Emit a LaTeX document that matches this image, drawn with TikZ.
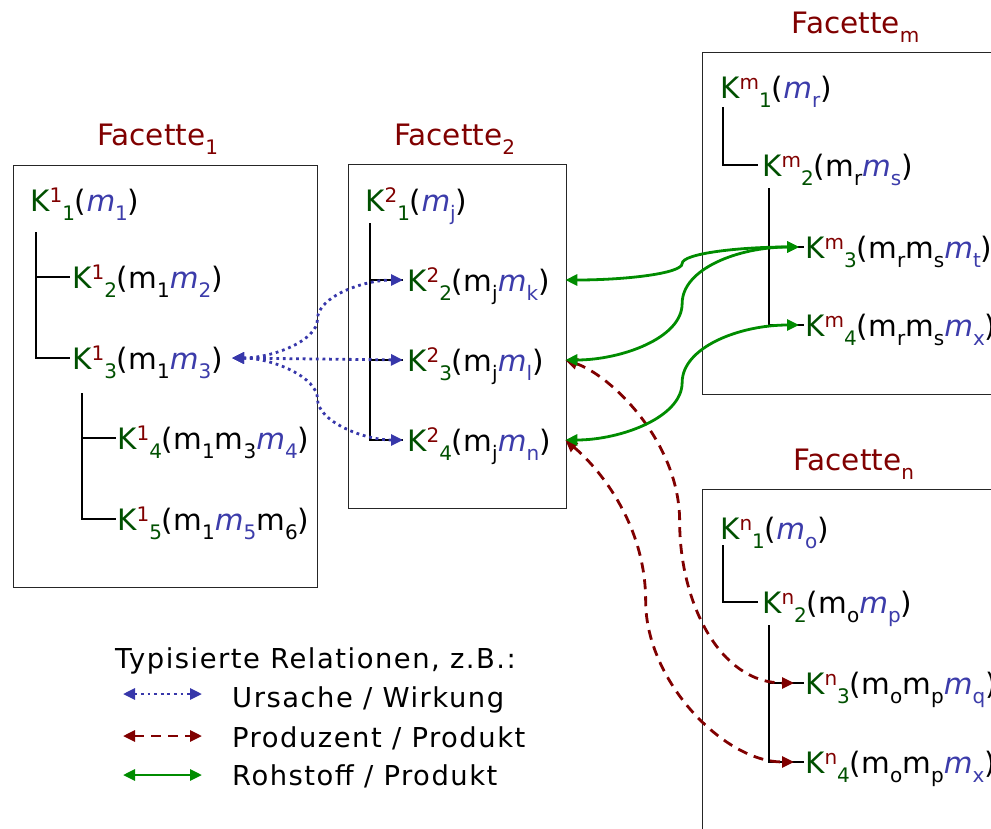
\documentclass[tikz,border=0pt]{standalone}
\usepackage{fontspec}
\setmainfont{DejaVu Sans}
\newfontfamily\legfont[LetterSpace=5.5]{DejaVu Sans}
\usepackage{xcolor}
\usepackage{tikz}
\usetikzlibrary{arrows.meta, calc}

\definecolor{fred}{RGB}{128,0,0}
\definecolor{kgruen}{RGB}{0,80,0}
\definecolor{mblau}{RGB}{60,60,170}
\definecolor{pfblau}{RGB}{55,55,170}
\definecolor{pfgruen}{RGB}{0,140,0}

\newcommand{\hoch}[1]{\raisebox{9pt}{\fontsize{20}{20}\selectfont #1}}
\newcommand{\tief}[1]{\raisebox{-9pt}{\fontsize{20}{20}\selectfont #1}}
\newcommand{\kat}[3]{\textcolor{kgruen}{K\hoch{\textcolor{fred}{#1}}\tief{#2}}(#3)}
\newcommand{\mneu}[1]{\textcolor{mblau}{\textit{m}\tief{#1}}}

\tikzstyle{facette} = [draw=black!85, line width=1.3pt, inner sep=0pt, anchor=north west]
\tikzstyle{titel} = [text=fred, anchor=base, inner sep=0pt]
\tikzstyle{kategorie} = [inner sep=0pt, text height=22pt, text depth=0pt, anchor=west]
\tikzstyle{baum} = [line width=2.6pt]
\tikzstyle{legende} = [font=\legfont\fontsize{27.4}{32}\selectfont, inner sep=0pt, anchor=base west]
\tikzstyle{spitzen} = [{Triangle[length=12pt,width=11pt]}-{Triangle[length=12pt,width=11pt]}]
\tikzstyle{ursache} = [spitzen, pfblau, line width=2.8pt, dash pattern=on 2.8pt off 3.8pt]
\tikzstyle{produzent} = [spitzen, fred, line width=2.8pt, dash pattern=on 10pt off 7pt]
\tikzstyle{rohstoff} = [spitzen, pfgruen, line width=2.8pt]

\begin{document}
\begin{tikzpicture}[x=1pt, y=-1pt, font=\fontsize{29.5}{34}\selectfont]
    \useasboundingbox (0,0) rectangle (991,828);
    \clip (0,0) rectangle (991,828);

    % Facetten
    \node (f1) [facette, minimum width=304pt, minimum height=422pt] at (13,165) {};
    \node (f2) [facette, minimum width=218pt, minimum height=344pt] at (348,164) {};
    \node (fm) [facette, minimum width=306pt, minimum height=342pt] at (702,52) {};
    \node (fn) [facette, minimum width=306pt, minimum height=400pt] at (702,489) {};

    \node [titel] at ([xshift=-8pt,yshift=20pt]f1.north) {Facette\tief{1}};
    \node [titel] at ([xshift=-3pt,yshift=19pt]f2.north) {Facette\tief{2}};
    \node [titel] at ([yshift=19pt]fm.north) {Facette\tief{m}};
    \node [titel] at ([xshift=-2pt,yshift=19pt]fn.north) {Facette\tief{n}};

    % Kategorien
    \node (k11) [kategorie] at (30,200) {\kat{1}{1}{\mneu{1}}};
    \node (k12) [kategorie] at (72,277) {\kat{1}{2}{m\tief{1}\mneu{2}}};
    \node (k13) [kategorie] at (72,358) {\kat{1}{3}{m\tief{1}\mneu{3}}};
    \node (k14) [kategorie] at (117,438) {\kat{1}{4}{m\tief{1}m\tief{3}\mneu{4}}};
    \node (k15) [kategorie] at (117,519) {\kat{1}{5}{m\tief{1}\mneu{5}m\tief{6}}};

    \node (k21) [kategorie] at (365,200) {\kat{2}{1}{\mneu{j}}};
    \node (k22) [kategorie] at (407,280) {\kat{2}{2}{m\tief{j}\mneu{k}}};
    \node (k23) [kategorie] at (407,360) {\kat{2}{3}{m\tief{j}\mneu{l}}};
    \node (k24) [kategorie] at (407,440) {\kat{2}{4}{m\tief{j}\mneu{n}}};

    \node (km1) [kategorie] at (720,87) {\kat{m}{1}{\mneu{r}}};
    \node (km2) [kategorie] at (762,165) {\kat{m}{2}{m\tief{r}\mneu{s}}};
    \node (km3) [kategorie] at (805,247) {\kat{m}{3}{m\tief{r}m\tief{s}\mneu{t}}};
    \node (km4) [kategorie] at (805,325) {\kat{m}{4}{m\tief{r}m\tief{s}\mneu{x}}};

    \node (kn1) [kategorie] at (720,528) {\kat{n}{1}{\mneu{o}}};
    \node (kn2) [kategorie] at (762,602) {\kat{n}{2}{m\tief{o}\mneu{p}}};
    \node (kn3) [kategorie] at (805,683) {\kat{n}{3}{m\tief{o}m\tief{p}\mneu{q}}};
    \node (kn4) [kategorie] at (805,762) {\kat{n}{4}{m\tief{o}m\tief{p}\mneu{x}}};

    % Hierarchie
    \coordinate (b11) at ([xshift=6pt,yshift=-21pt]k11.south west);
    \draw [baum] (b11) |- ([xshift=-2pt]k13.west);
    \draw [baum] (b11 |- k12.west) -- ([xshift=-2pt]k12.west);
    \coordinate (b12) at ([xshift=10pt,yshift=-24pt]k13.south west);
    \draw [baum] (b12) |- ([xshift=-1pt]k15.west);
    \draw [baum] (b12 |- k14.west) -- ([xshift=-1pt]k14.west);

    \coordinate (b21) at ([xshift=5pt,yshift=-12pt]k21.south west);
    \draw [baum] (b21) |- ([xshift=-4pt]k24.west);
    \draw [baum] (b21 |- k22.west) -- ([xshift=-4pt]k22.west);
    \draw [baum] (b21 |- k23.west) -- ([xshift=-4pt]k23.west);

    \coordinate (b31) at ([xshift=3pt,yshift=-9pt]km1.south west);
    \draw [baum] (b31) |- ([xshift=-4pt]km2.west);
    \coordinate (b32) at ([xshift=7pt,yshift=-12pt]km2.south west);
    \draw [baum] (b32) |- ([xshift=-1pt]km4.west);
    \draw [baum] (b32 |- km3.west) -- ([xshift=-1pt]km3.west);

    \coordinate (b41) at ([xshift=3pt,yshift=-6pt]kn1.south west);
    \draw [baum] (b41) |- ([xshift=-4pt]kn2.west);
    \coordinate (b42) at ([xshift=7pt,yshift=-12pt]kn2.south west);
    \draw [baum] (b42) |- ([xshift=-1pt]kn4.west);
    \draw [baum] (b42 |- kn3.west) -- ([xshift=-1pt]kn3.west);

    % Ursache / Wirkung
    \coordinate (u0) at ([xshift=160pt]k13.west);
    \coordinate (u2) at ([xshift=-4pt]k22.west);
    \coordinate (u3) at ([xshift=-4pt]k23.west);
    \coordinate (u4) at ([xshift=-4pt]k24.west);
    \coordinate (um2) at ($(u0)!0.5!(u2)$);
    \coordinate (um4) at ($(u0)!0.5!(u4)$);
    \draw [ursache] (u0) .. controls +(40,0) and +(0,22) .. (um2) .. controls +(0,-22) and +(-40,0) .. (u2);
    \draw [ursache] (u0) -- (u3);
    \draw [ursache] (u0) .. controls +(40,0) and +(0,-22) .. (um4) .. controls +(0,22) and +(-40,0) .. (u4);

    % Rohstoff / Produkt und Produzent / Produkt
    \coordinate (r2) at ([xshift=-2pt]k22.west -| f2.east);
    \coordinate (r3) at ([xshift=-2pt]k23.west -| f2.east);
    \coordinate (r4) at ([xshift=-2pt]k24.west -| f2.east);
    \coordinate (pm3) at ([xshift=-6pt]km3.west);
    \coordinate (pm4) at ([xshift=-6pt]km4.west);
    \coordinate (pn3) at ([xshift=-11pt]kn3.west);
    \coordinate (pn4) at ([xshift=-11pt]kn4.west);

    \coordinate (g1) at ($(r2)!0.5!(pm3)$);
    \coordinate (g2) at ($(r3)!0.5!(pm3)$);
    \coordinate (g3) at ($(r4)!0.5!(pm4)$);
    \coordinate (p1) at ($(r3)!0.5!(pn3)$);
    \coordinate (p2) at ($(r4)!0.5!(pn4) + (-34,0)$);

    \draw [produzent] (r3) .. controls +(45,15) and +(0,-80) .. (p1) .. controls +(0,80) and +(-75,0) .. (pn3);
    \draw [produzent] (r4) .. controls +(30,25) and +(0,-80) .. (p2) .. controls +(0,80) and +(-70,0) .. (pn4);

    \draw [rohstoff] (r2) .. controls +(60,0) and +(0,10) .. (g1) .. controls +(0,-10) and +(-60,0) .. (pm3);
    \draw [rohstoff] (r3) .. controls +(55,0) and +(0,35) .. (g2) .. controls +(0,-35) and +(-60,0) .. (pm3);
    \draw [rohstoff] (r4) .. controls +(55,0) and +(0,35) .. (g3) .. controls +(0,-35) and +(-60,0) .. (pm4);

    % Legende
    \node (leg0) [legende] at (115,668) {Typisierte Relationen, z.B.:};
    \node (leg1) [legende] at (232,707) {Ursache / Wirkung};
    \node (leg2) [legende] at (232,747) {Produzent / Produkt};
    \node (leg3) [legende] at (232,785) {Rohstoff / Produkt};
    \draw [ursache] ([xshift=-109pt,yshift=13pt]leg1.base west) -- ([xshift=-30pt,yshift=13pt]leg1.base west);
    \draw [produzent] ([xshift=-109pt,yshift=11pt]leg2.base west) -- ([xshift=-30pt,yshift=11pt]leg2.base west);
    \draw [rohstoff] ([xshift=-109pt,yshift=10pt]leg3.base west) -- ([xshift=-30pt,yshift=10pt]leg3.base west);

\end{tikzpicture}
\end{document}
